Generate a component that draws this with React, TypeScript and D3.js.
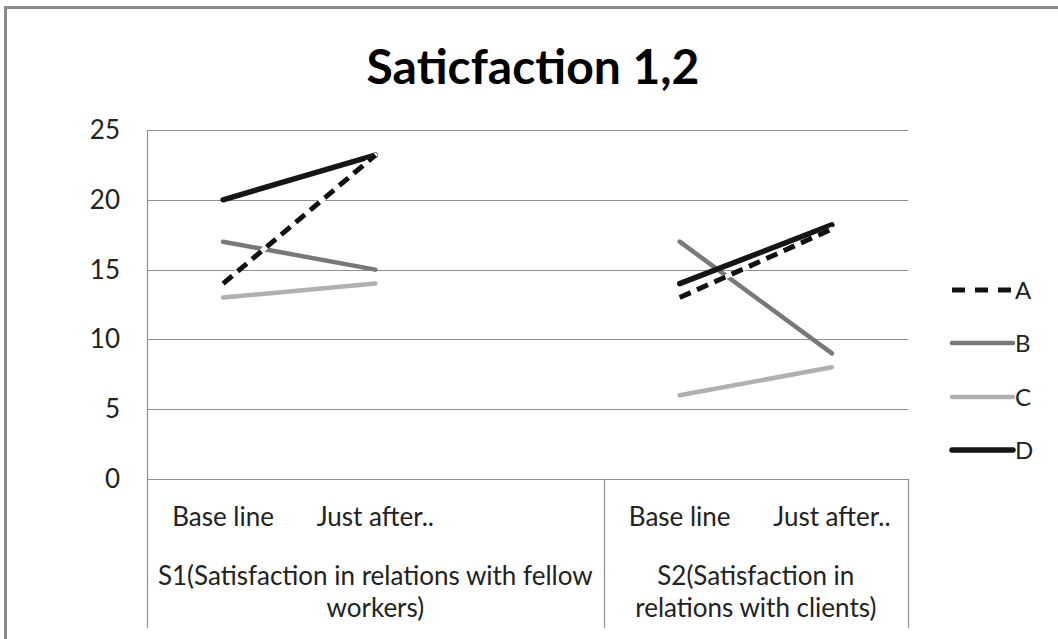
import React, { useEffect } from "react";
import * as d3 from "d3";

const categories = ["Base line", "Just after..", "", "Base line", "Just after.."];
const groups = [
  { lines: ["S1(Satisfaction in relations with fellow", "workers)"], span: [0, 3] },
  { lines: ["S2(Satisfaction in", "relations with clients)"], span: [3, 5] },
];
const seriesNames = ["A", "B", "C", "D"];
const seriesA = [14, 23.2, null, 13, 17.9];
const seriesB = [17, 15, null, 17, 9];
const seriesC = [13, 14, null, 6, 8];
const seriesD = [20, 23.2, null, 14, 18.2];
const yTicks = [0, 5, 10, 15, 20, 25];
const title = "Saticfaction 1,2";

const W = 1058, H = 639;
const FONT = "Lato, 'Open Sans', sans-serif";

export default function App() {
  useEffect(() => {
    document.body.style.margin = "0";
  }, []);

  const left = 147, right = 908, top = 130, bottom = 479;
  const x = d3.scaleBand<number>().domain(d3.range(categories.length)).range([left, right]).padding(0);
  const y = d3.scaleLinear().domain([0, 25]).range([bottom, top]);
  const cx = (i: number) => (x(i) as number) + x.bandwidth() / 2;

  const line = d3
    .line<number | null>()
    .defined((d) => d !== null)
    .x((_, i) => cx(i))
    .y((d) => y(d as number));

  const styles = [
    { color: "#111", width: 5, dash: "12,7" },
    { color: "#787878", width: 4.5, dash: "" },
    { color: "#b0b0b0", width: 4.5, dash: "" },
    { color: "#161616", width: 5.5, dash: "" },
  ];
  const data = [seriesA, seriesB, seriesC, seriesD];
  const drawOrder = [1, 2, 3, 0];
  const legendY = [290, 343, 397, 450];
  const gridColor = "#8f8f8f";
  const fs = 26;

  return (
    <svg width={W} height={H} style={{ display: "block", background: "#fff" }} fontFamily={FONT}>
      <rect x={5.5} y={7.5} width={1200} height={800} fill="none" stroke="#8a8a8a" strokeWidth={3} />
      <text x={533} y={84} textAnchor="middle" fontSize={48} fontWeight="bold" fill="#000">
        {title}
      </text>
      {yTicks.map((t) => (
        <g key={t}>
          {t > 0 && (
            <line x1={left} x2={right} y1={Math.round(y(t)) + 0.5} y2={Math.round(y(t)) + 0.5} stroke={gridColor} strokeWidth={1.2} />
          )}
          <text x={120} y={y(t) + 9} textAnchor="end" fontSize={fs} fill="#222">
            {t}
          </text>
        </g>
      ))}
      <line x1={left + 0.5} x2={left + 0.5} y1={top} y2={bottom} stroke={gridColor} strokeWidth={1.2} />
      <line x1={left} x2={right} y1={bottom + 0.5} y2={bottom + 0.5} stroke={gridColor} strokeWidth={1.2} />
      {[0, 3, 5].map((i) => {
        const xx = i === categories.length ? right : (x(i) as number);
        return <line key={i} x1={Math.round(xx) + 0.5} x2={Math.round(xx) + 0.5} y1={bottom} y2={628} stroke={gridColor} strokeWidth={1.2} />;
      })}
      {categories.map((c, i) => (
        <text key={i} x={cx(i)} y={526} textAnchor="middle" fontSize={fs} fill="#222">
          {c}
        </text>
      ))}
      {groups.map((g, gi) => {
        const gx0 = x(g.span[0]) as number;
        const gx1 = g.span[1] >= categories.length ? right : (x(g.span[1]) as number);
        return g.lines.map((l, li) => (
          <text key={gi + "-" + li} x={(gx0 + gx1) / 2} y={585 + li * 32} textAnchor="middle" fontSize={fs} fill="#222">
            {l}
          </text>
        ));
      })}
      {drawOrder.map((si) => {
        const s = styles[si];
        const d = line(data[si]) as string;
        return (
          <g key={si}>
            {si === 0 && <path d={d} fill="none" stroke="#fff" strokeWidth={4.5} strokeLinecap="round" />}
            <path d={d} fill="none" stroke={s.color} strokeWidth={s.width} strokeDasharray={s.dash || undefined} strokeLinecap={s.dash ? "butt" : "round"} />
          </g>
        );
      })}
      {seriesNames.map((n, i) => {
        const s = styles[i];
        return (
          <g key={n}>
            <line x1={952} x2={1013} y1={legendY[i]} y2={legendY[i]} stroke={s.color} strokeWidth={s.width} strokeDasharray={s.dash ? "13,10" : undefined} strokeLinecap={s.dash ? "butt" : "round"} />
            <text x={1015} y={legendY[i] + 9} fontSize={24} fill="#222">
              {n}
            </text>
          </g>
        );
      })}
    </svg>
  );
}
